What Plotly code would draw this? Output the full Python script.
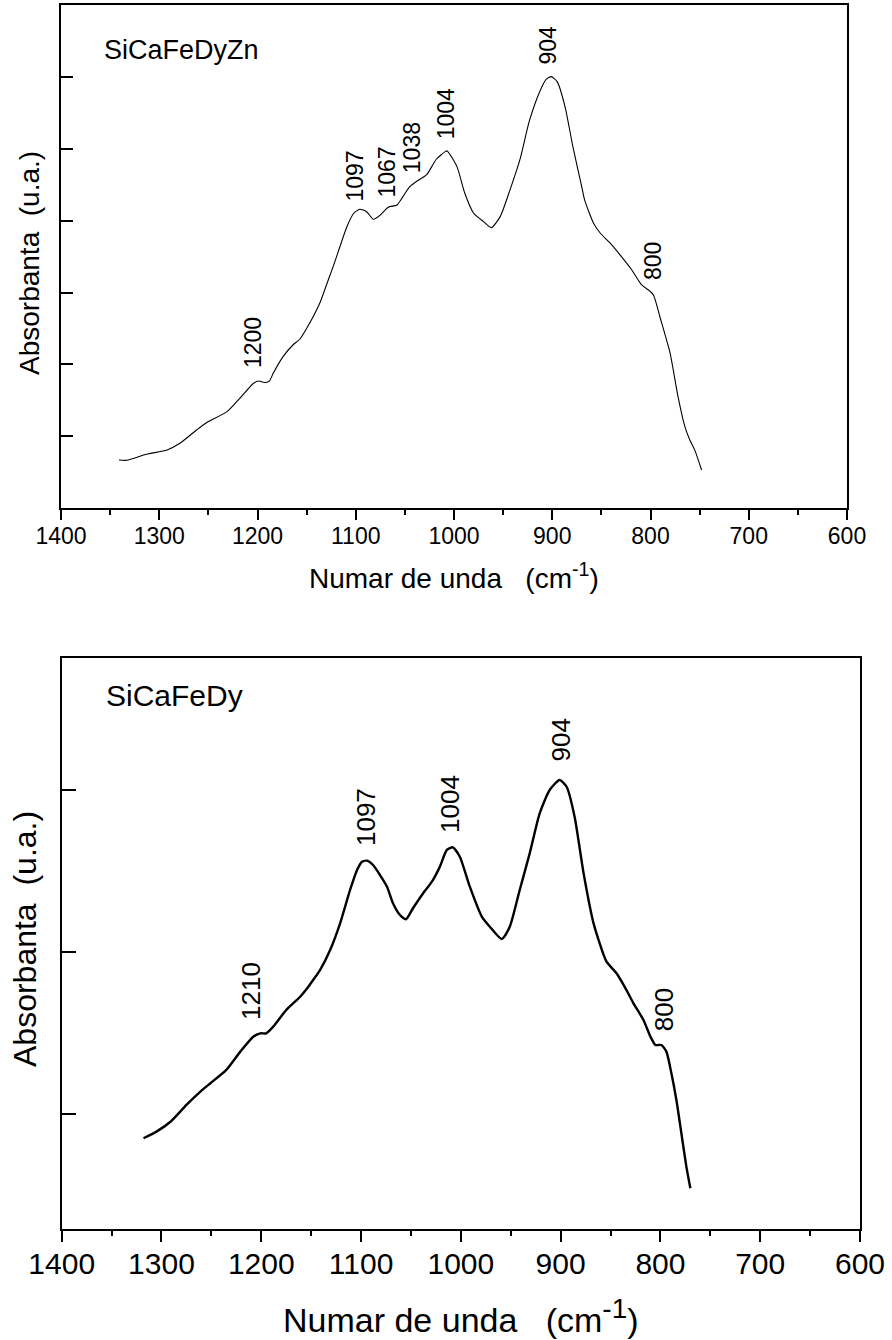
import plotly.graph_objects as go

# ---------------- data ----------------
wn_top = [1341, 1333, 1313, 1292, 1279, 1262, 1252, 1231, 1218, 1204, 1199, 1193, 1188,
          1184, 1174, 1164, 1157, 1147, 1136, 1128, 1123, 1109, 1102, 1096, 1089, 1082,
          1075, 1067, 1058, 1052, 1045, 1036, 1028, 1018, 1009, 1007, 997, 989, 980, 970,
          962, 953, 943, 933, 923, 912, 906, 901, 895, 887, 879, 870, 867, 858, 851, 841,
          831, 819, 809, 802, 797, 790, 780, 772, 765, 760, 755, 748]
abs_top = [0.665, 0.661, 0.745, 0.805, 0.898, 1.084, 1.185, 1.339, 1.526, 1.735, 1.767, 1.745, 1.765,
           1.874, 2.106, 2.269, 2.349, 2.572, 2.873, 3.176, 3.361, 3.919, 4.106, 4.162, 4.128, 4.022,
           4.082, 4.190, 4.222, 4.338, 4.477, 4.570, 4.640, 4.859, 4.965, 4.975, 4.756, 4.385, 4.106, 3.989,
           3.905, 4.059, 4.431, 4.849, 5.407, 5.826, 5.975, 6.011, 5.941, 5.593, 5.035, 4.477, 4.29, 3.967, 3.827, 3.688,
           3.525, 3.315, 3.106, 3.036, 2.967, 2.642, 2.153, 1.548, 1.130, 0.945, 0.806, 0.526]

wn_bot = [1318, 1305, 1291, 1275, 1261, 1251, 1235, 1221, 1208, 1201, 1195, 1188, 1175, 1161,
          1154, 1148, 1141, 1131, 1121, 1111, 1104, 1099, 1094, 1088, 1081, 1074, 1068, 1061,
          1055, 1048, 1039, 1028, 1021, 1014, 1008, 1001, 991, 979, 971, 959, 951, 941, 931,
          921, 911, 901, 894, 886, 877, 867, 854, 844, 834, 827, 817, 810, 805, 799, 794, 789,
          784, 779, 774, 770]
abs_bot = [0.850, 0.891, 0.952, 1.056, 1.138, 1.190, 1.272, 1.385, 1.477, 1.498, 1.498, 1.539, 1.642, 1.724,
           1.776, 1.827, 1.889, 2.012, 2.177, 2.383, 2.506, 2.557, 2.564, 2.537, 2.475, 2.403, 2.301, 2.228,
           2.202, 2.270, 2.352, 2.444, 2.527, 2.630, 2.646, 2.588, 2.403, 2.218, 2.156, 2.080, 2.156, 2.383, 2.609,
           2.856, 3.000, 3.062, 3.020, 2.835, 2.486, 2.177, 1.940, 1.869, 1.765, 1.683, 1.580, 1.477, 1.426, 1.426, 1.385, 1.251,
           1.086, 0.881, 0.675, 0.541]

peaks_top = ["1200", "1097", "1067", "1038", "1004", "904", "800"]
peaks_top_x = [1205, 1101, 1068, 1042, 1008, 904, 798]
peaks_top_y = [1.92, 4.245, 4.292, 4.64, 5.105, 6.15, 3.152]

peaks_bot = ["1210", "1097", "1004", "904", "800"]
peaks_bot_x = [1211, 1095, 1011, 900, 797]
peaks_bot_y = [1.57, 2.642, 2.722, 3.165, 1.498]

x_ticks = [1400, 1300, 1200, 1100, 1000, 900, 800, 700, 600]
y_ticks_top = [1, 2, 3, 4, 5, 6]
y_ticks_bot = [1, 2, 3]

sample_top = "SiCaFeDyZn"
sample_bot = "SiCaFeDy"
x_title_top = "Numar de unda\u00a0\u00a0\u00a0(cm<sup>-1</sup>)"
x_title_bot = "Numar de unda\u00a0\u00a0\u00a0(cm<sup><span style='font-size:28px'>-1</span></sup>)"
y_title = "Absorbanta\u00a0\u00a0(u.a.)"

# ---------------- figure ----------------
W, H = 892, 1340
FONT = "Arial, Liberation Sans, sans-serif"

fig = go.Figure()
fig.add_trace(go.Scatter(x=wn_top, y=abs_top, mode="lines", xaxis="x", yaxis="y",
                         line=dict(color="black", width=1.1, shape="spline", smoothing=0.6),
                         hoverinfo="skip"))
fig.add_trace(go.Scatter(x=wn_bot, y=abs_bot, mode="lines", xaxis="x2", yaxis="y2",
                         line=dict(color="black", width=2.4, shape="spline", smoothing=0.6),
                         hoverinfo="skip"))


def px_x(p):
    return p / W


def px_y(p):
    return (H - p) / H


common_x = dict(range=[1400, 600], tickmode="array", tickvals=x_ticks,
                ticktext=[str(t) for t in x_ticks], ticks="outside", tickcolor="black",
                tickwidth=2, showline=True, linecolor="black", linewidth=2, mirror=True,
                showgrid=False, zeroline=False, automargin=False,
                minor=dict(tickvals=[t - 50 for t in x_ticks[:-1]], ticks="outside",
                           tickcolor="black", tickwidth=2, ticklen=5, showgrid=False))
common_y = dict(tickmode="array", ticks="inside", tickcolor="black", tickwidth=2,
                showticklabels=False, showline=True, linecolor="black", linewidth=2,
                mirror=True, showgrid=False, zeroline=False, automargin=False)
top_ticks = dict(range=[1400, 600], side="top", tickmode="linear", tick0=0, dtick=50,
                 ticks="inside", ticklen=4, tickwidth=1.5, tickcolor="black",
                 showticklabels=False, showline=False, showgrid=False, zeroline=False,
                 automargin=False)

fig.update_layout(
    width=W, height=H, margin=dict(l=0, r=0, t=0, b=0, autoexpand=False),
    paper_bgcolor="white", plot_bgcolor="white", showlegend=False,
    font=dict(family=FONT, color="black"),
    xaxis=dict(domain=[px_x(61), px_x(847)], anchor="y", ticklen=10,
               tickfont=dict(size=23, family=FONT), ticklabelstandoff=-3, **common_x),
    yaxis=dict(domain=[px_y(507.7), px_y(5)], anchor="x", range=[0, 7.01],
               tickvals=y_ticks_top, ticklen=12, **common_y),
    xaxis3=dict(overlaying="x", anchor="y", **top_ticks),
    xaxis2=dict(domain=[px_x(61.7), px_x(860)], anchor="y2", ticklen=11,
                tickfont=dict(size=30, family=FONT), ticklabelstandoff=-4, **common_x),
    yaxis2=dict(domain=[px_y(1229), px_y(658.3)], anchor="x2", range=[0.29, 3.813],
                tickvals=y_ticks_bot, ticklen=14, **common_y),
    xaxis4=dict(overlaying="x2", anchor="y2", **top_ticks),
)

ann = []
for t, x, y in zip(peaks_top, peaks_top_x, peaks_top_y):
    ann.append(dict(text=t, x=x, y=y, xref="x", yref="y", textangle=-90, showarrow=False,
                    xanchor="center", yanchor="bottom", font=dict(size=23, family=FONT)))
for t, x, y in zip(peaks_bot, peaks_bot_x, peaks_bot_y):
    ann.append(dict(text=t, x=x, y=y, xref="x2", yref="y2", textangle=-90, showarrow=False,
                    xanchor="center", yanchor="bottom", font=dict(size=26, family=FONT)))

ann += [
    dict(text=sample_top, x=px_x(181), y=px_y(50), xref="paper", yref="paper", showarrow=False,
         xanchor="center", yanchor="middle", font=dict(size=27, family=FONT)),
    dict(text=sample_bot, x=px_x(174), y=px_y(695), xref="paper", yref="paper", showarrow=False,
         xanchor="center", yanchor="middle", font=dict(size=30, family=FONT)),
    dict(text=x_title_top, x=px_x(454), y=px_y(576), xref="paper", yref="paper", showarrow=False,
         xanchor="center", yanchor="middle", font=dict(size=28, family=FONT)),
    dict(text=y_title, x=px_x(29), y=px_y(263), xref="paper", yref="paper", showarrow=False,
         textangle=-90, xanchor="center", yanchor="middle", font=dict(size=28, family=FONT)),
    dict(text=x_title_bot, x=px_x(461), y=px_y(1316), xref="paper", yref="paper", showarrow=False,
         xanchor="center", yanchor="middle", font=dict(size=34, family=FONT)),
    dict(text=y_title, x=px_x(25), y=px_y(939), xref="paper", yref="paper", showarrow=False,
         textangle=-90, xanchor="center", yanchor="middle", font=dict(size=32, family=FONT)),
]
fig.update_layout(annotations=ann)

fig.write_html("out.html")
